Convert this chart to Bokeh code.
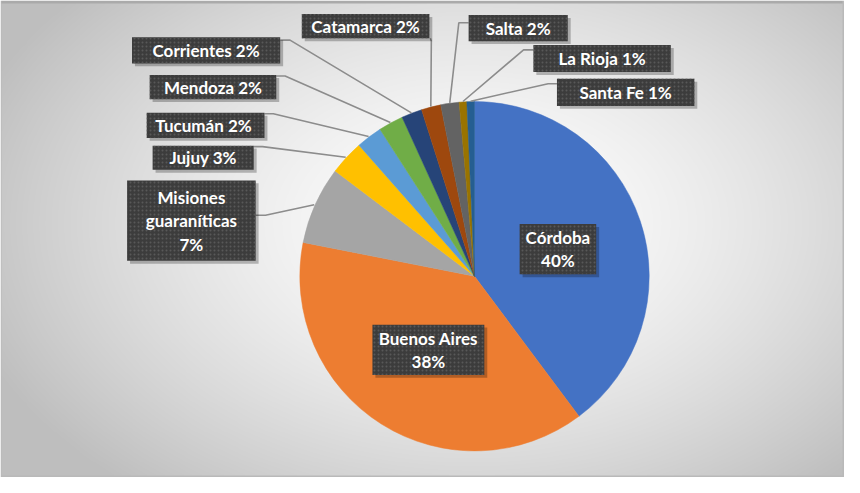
import numpy as np
from bokeh.plotting import figure
from bokeh.models import Range1d
from bokeh.core.properties import value
from bokeh.embed import file_html
from bokeh.resources import INLINE

# ---------------- data ----------------
provinces = ["Córdoba", "Buenos Aires", "Misiones guaraníticas", "Jujuy", "Tucumán",
             "Mendoza", "Corrientes", "Catamarca", "Salta", "La Rioja", "Santa Fe"]
shares = [39.8, 38.3, 7.2, 3.2, 2.4, 2.3, 1.9, 1.8, 1.7, 0.7, 0.7]
label_texts = ["Córdoba\n40%", "Buenos Aires\n38%", "Misiones\nguaraníticas\n7%",
               "Jujuy 3%", "Tucumán  2%", "Mendoza 2%", "Corrientes 2%",
               "Catamarca 2%", "Salta 2%", "La Rioja 1%", "Santa Fe 1%"]
colors = ["#4472C4", "#ED7D31", "#A5A5A5", "#FFC000", "#5B9BD5", "#70AD47",
          "#264478", "#9E480E", "#636363", "#997300", "#255E91"]

# ---------------- layout (reference pixel coords, y down) ----------------
W, H = 860, 493
CX, CY, R = 483, 285, 178
boxes = [(529, 231, 607, 283), (379, 335, 493, 387), (129, 186, 260, 269),
         (155, 150, 258, 175), (149, 116, 269, 142), (152, 77, 281, 102),
         (134, 38, 285, 65), (307, 14, 437, 39), (477, 15, 578, 42),
         (543, 46, 683, 74), (567, 81, 707, 109)]
# leader start and elbow points (None = no leader)
leaders = [None, None,
           ((260, 222), (270, 222)), ((258, 151), (267, 151)),
           ((269, 117), (278, 117)), ((281, 78), (290, 78)),
           ((285, 41), (295, 41)), ((438, 39), (439, 42)),
           ((477, 23), (467, 23)), ((543, 51), (533, 51)),
           ((567, 86), (558, 86))]

def fy(y):
    return H - y

p = figure(width=844, height=477, output_backend="svg", toolbar_location=None,
           x_range=Range1d(0, W), y_range=Range1d(0, H),
           x_axis_type=None, y_axis_type=None, min_border=0,
           outline_line_color=None)
p.grid.visible = False

# background radial gradient with thin frame
yy, xx = np.mgrid[0:H, 0:W].astype(float)
d = np.sqrt(((xx - 480) / 540.0) ** 2 + ((yy - 230) / 360.0) ** 2)
g = (255 - 65 * np.clip(d, 0, 1) ** 1.5)
g[:3, :] = 170
g[:, :1] = 185
g[:, -2:] = 185
g[-2:, :] = 185
g = g.astype(np.uint8)
img = np.empty((H, W), dtype=np.uint32)
v = img.view(dtype=np.uint8).reshape((H, W, 4))
v[..., 0] = g
v[..., 1] = g
v[..., 2] = g
v[..., 3] = 255
img = np.flipud(img)
p.image_rgba(image=[img], x=0, y=0, dw=W, dh=H)

# pie
vals = np.array(shares, dtype=float)
frac = vals / vals.sum()
cum_end = np.cumsum(frac)
cum_start = cum_end - frac
start = np.pi / 2 - 2 * np.pi * cum_start
end = np.pi / 2 - 2 * np.pi * cum_end
p.wedge(x=CX, y=fy(CY), radius=R, start_angle=start, end_angle=end,
        direction="clock", fill_color=colors, line_color=colors, line_width=0.5)

# leader lines
mid = np.pi / 2 - 2 * np.pi * (cum_start + frac / 2)
lx, ly = [], []
for i, ld in enumerate(leaders):
    if ld is None:
        continue
    (sx, sy), (ex, ey) = ld
    px = CX + (R + 1) * np.cos(mid[i])
    py = fy(CY) + (R + 3) * np.sin(mid[i])
    lx.append([sx, ex, px])
    ly.append([fy(sy), fy(ey), py])
p.multi_line(xs=lx, ys=ly, line_color="#8c8c8c", line_width=1.6)

# label boxes
bx = [(b[0] + b[2]) / 2 for b in boxes]
by = [fy((b[1] + b[3]) / 2) for b in boxes]
bw = [b[2] - b[0] for b in boxes]
bh = [b[3] - b[1] for b in boxes]
p.rect(x=[x + 3 for x in bx], y=[y - 3 for y in by], width=bw, height=bh,
       fill_color="#000000", fill_alpha=0.25, line_color=None)
p.rect(x=bx, y=by, width=bw, height=bh, fill_color="#3c3c3c", line_color=None,
       hatch_pattern="dot", hatch_color="#585858", hatch_scale=4, hatch_weight=1)
p.text(x=bx, y=by, text=label_texts, text_align="center", text_baseline="middle",
       text_color="white", text_font=value("Lato"), text_font_style="bold",
       text_font_size="17px", text_line_height=1.12)

open("out.html", "w").write(file_html(p, INLINE))
